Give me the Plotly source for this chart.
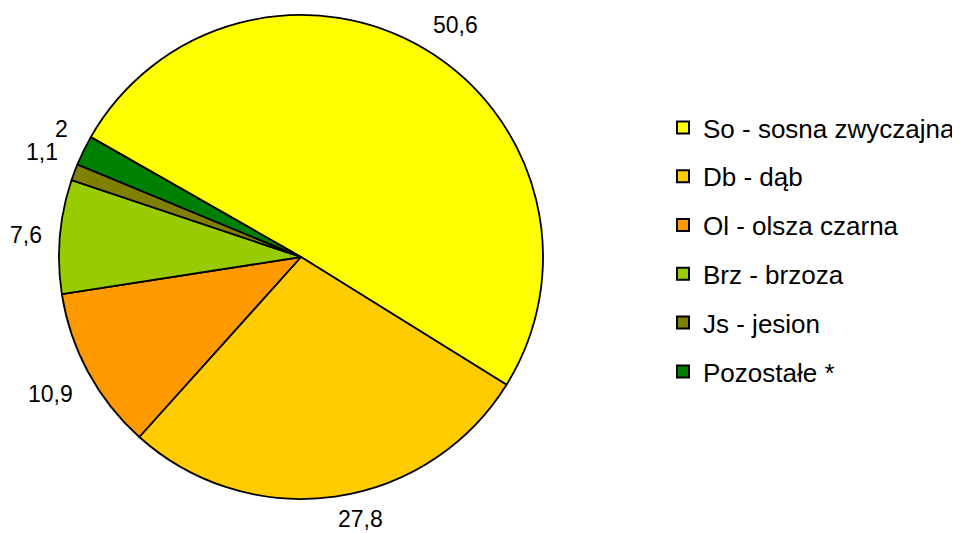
import math
import plotly.graph_objects as go

labels = ["So - sosna zwyczajna", "Db - dąb", "Ol - olsza czarna", "Brz - brzoza", "Js - jesion", "Pozostałe *"]
values = [50.6, 27.8, 10.9, 7.6, 1.1, 2.0]
value_text = ["50,6", "27,8", "10,9", "7,6", "1,1", "2"]
colors = ["#FFFF00", "#FFCC00", "#FF9900", "#99CC00", "#808000", "#008000"]

# page body has an 8px margin; the figure is sized to fill the rest of the window
OFF = 8
W, H = 960 - OFF, 533 - OFF
cx, cy, R = 301 - OFF, 257 - OFF, 242
start_angle = -60.3

fig = go.Figure()
fig.add_trace(go.Pie(
    labels=labels, values=values, sort=False, direction="clockwise",
    rotation=start_angle, textinfo="none", hoverinfo="label+value",
    marker=dict(colors=colors, line=dict(color="black", width=1.8)),
    domain=dict(x=[(cx - R) / W, (cx + R) / W], y=[(H - cy - R) / H, (H - cy + R) / H]),
    showlegend=False,
))

# legend entries
for lab, col in zip(labels, colors):
    fig.add_trace(go.Scatter(
        x=[None], y=[None], mode="markers", name=lab,
        marker=dict(symbol="square", size=12, color=col, line=dict(color="black", width=1.3)),
        legendgroup=lab, showlegend=True,
    ))

# data labels outside slices
total = sum(values)
ang = start_angle
annotations = []
for v, t in zip(values, value_text):
    mid = ang + v / total * 180.0
    ang += v / total * 360.0
    s, c = math.sin(math.radians(mid)), -math.cos(math.radians(mid))
    gap = 6 + 10 * abs(s)
    px = cx + (R + gap) * s
    py = cy + (R + gap) * c
    xa = "left" if s > 0.1 else ("right" if s < -0.1 else "center")
    ya = "bottom" if c < -0.3 else ("top" if c > 0.3 else "middle")
    annotations.append(dict(
        x=px / W, y=1 - py / H, xref="paper", yref="paper", text=t,
        showarrow=False, xanchor=xa, yanchor=ya,
        font=dict(family="Liberation Sans, Arial", size=23, color="black"),
    ))

fig.update_layout(
    width=W, height=H,
    margin=dict(l=0, r=0, t=0, b=0, pad=0, autoexpand=False),
    paper_bgcolor="white", plot_bgcolor="white",
    xaxis=dict(visible=False), yaxis=dict(visible=False),
    annotations=annotations,
    legend=dict(
        x=(663 - OFF) / W, y=1 - (104 - OFF) / H, xanchor="left", yanchor="top",
        font=dict(family="Liberation Sans, Arial", size=26, color="black"),
        tracegroupgap=12, itemsizing="constant", bgcolor="rgba(0,0,0,0)",
    ),
    font=dict(family="Liberation Sans, Arial"),
)

fig.write_html("out.html")
